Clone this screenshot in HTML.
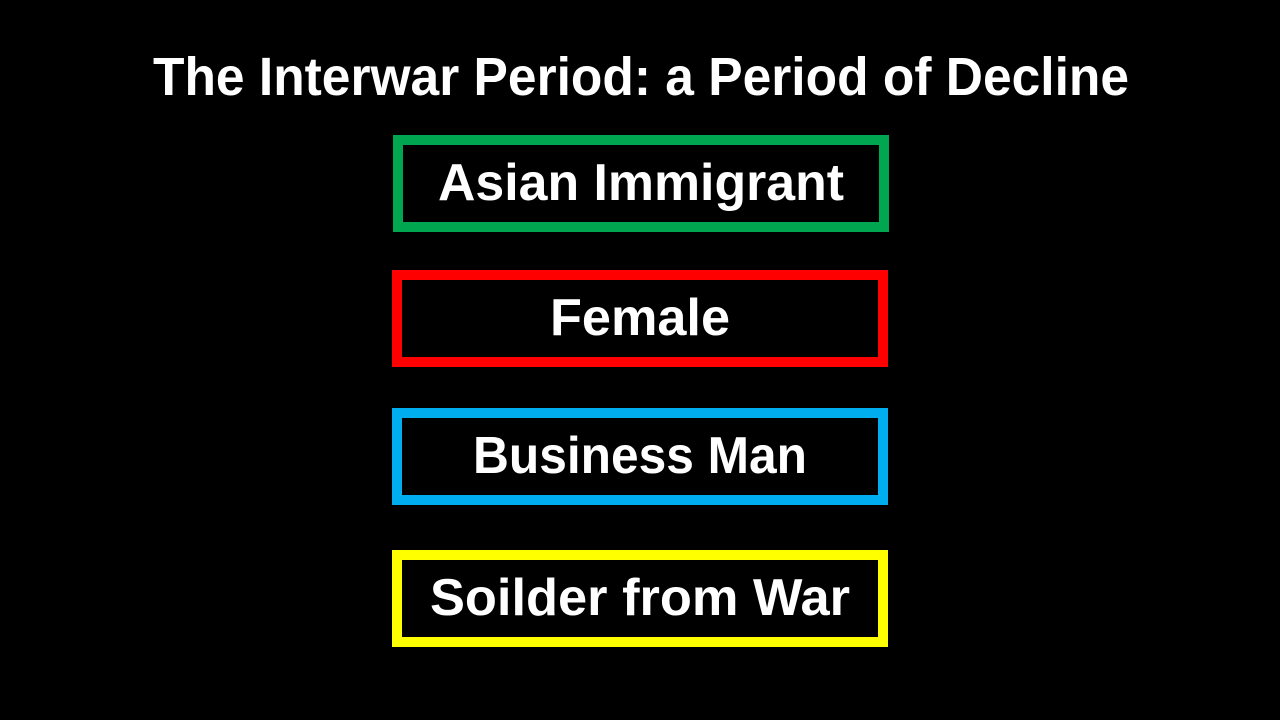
<!DOCTYPE html>
<html>
<head>
<meta charset="utf-8">
<style>
  html,body{margin:0;padding:0;background:#000;width:1280px;height:720px;overflow:hidden;}
  svg{display:block;}
  text{font-family:"Liberation Sans",sans-serif;font-weight:bold;fill:#fff;}
</style>
</head>
<body>
<svg width="1280" height="720" viewBox="0 0 1280 720">
  <rect x="0" y="0" width="1280" height="720" fill="#000"/>
  <text x="641" y="95" font-size="54" text-anchor="middle" textLength="976" lengthAdjust="spacingAndGlyphs">The Interwar Period: a Period of Decline</text>

  <g>
    <rect x="398" y="140" width="486" height="87" fill="none" stroke="#00a650" stroke-width="10"/>
    <text x="641" y="200" font-size="52" text-anchor="middle" textLength="406" lengthAdjust="spacingAndGlyphs">Asian Immigrant</text>
  </g>

  <g>
    <rect x="397" y="275" width="486" height="87" fill="none" stroke="#ff0000" stroke-width="10"/>
    <text x="640" y="335" font-size="52" text-anchor="middle" textLength="180" lengthAdjust="spacingAndGlyphs">Female</text>
  </g>

  <g>
    <rect x="397" y="413" width="486" height="87" fill="none" stroke="#00aeef" stroke-width="10"/>
    <text x="640" y="473" font-size="52" text-anchor="middle" textLength="334" lengthAdjust="spacingAndGlyphs">Business Man</text>
  </g>

  <g>
    <rect x="397" y="555" width="486" height="87" fill="none" stroke="#ffff00" stroke-width="10"/>
    <text x="640" y="615" font-size="52" text-anchor="middle" textLength="420" lengthAdjust="spacingAndGlyphs">Soilder from War</text>
  </g>
</svg>
</body>
</html>
